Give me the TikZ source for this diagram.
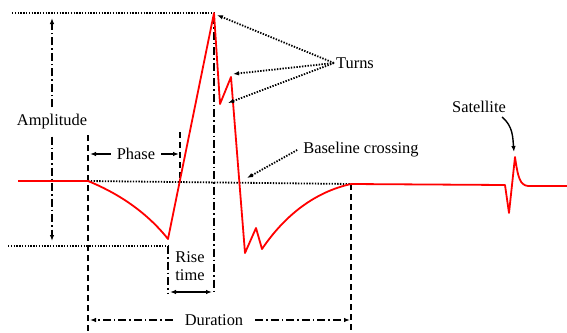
\documentclass[tikz,border=0pt]{standalone}
\usepackage{fontspec}
\setmainfont{Liberation Serif}
\usetikzlibrary{arrows.meta}
\begin{document}
\begin{tikzpicture}[x=1pt,y=-1pt,
  wave/.style={red, line width=1.8pt, line join=round},
  dotl/.style={line width=1.8pt, dash pattern=on 1.4pt off 1.4pt},
  dashl/.style={line width=1.9pt, dash pattern=on 6pt off 4pt},
  dashdot/.style={line width=1.7pt, dash pattern=on 8pt off 3pt on 1.5pt off 3pt},
  tip/.style={-{Latex[length=6pt,width=4.5pt]}},
  dtip/.style={{Latex[length=6pt,width=4.5pt]}-{Latex[length=6pt,width=4.5pt]}},
  lbl/.style={font=\fontsize{16.4}{18}\selectfont, inner sep=0pt, align=center}
]
\useasboundingbox (0,0) rectangle (567,332);
% waveform points
\coordinate (b0) at (18,181);
\coordinate (onset) at (88,181);
\coordinate (trough) at (168,239);
\coordinate (peak) at (214,13);
\coordinate (t1) at (220,104);
\coordinate (t2) at (231,77);
\coordinate (neg) at (245,253);
\coordinate (t3) at (256,228);
\coordinate (t4) at (262,249);
\coordinate (ret) at (351,184);
\coordinate (s0) at (505,185);
\coordinate (sdip) at (509,213);
\coordinate (stop) at (515,157);
\coordinate (s1) at (528,186);
\coordinate (b1) at (567,186);
% guide points
\coordinate (topL) at (12,13);
\coordinate (botL) at (8,246);
\coordinate (botR) at (168,246);
\coordinate (riseB) at (168,294);
\coordinate (onT) at (88,135);
\coordinate (onB) at (88,332);
\coordinate (phT) at (180,132);
\coordinate (phB) at (180,182);
\coordinate (pkT) at (214,16);
\coordinate (pkB) at (214,294);
\coordinate (rtT) at (351,184);
\coordinate (rtB) at (351,332);
\coordinate (ampT) at (52,18);
\coordinate (ampB) at (52,241);
\coordinate (phL) at (90,154);
\coordinate (phR) at (179,154);
\coordinate (rsL) at (170,292);
\coordinate (rsR) at (212,292);
\coordinate (duL) at (90,320);
\coordinate (duR) at (350,320);
\coordinate (tu1) at (217,15);
\coordinate (tu2) at (233,74);
\coordinate (tu3) at (228,103);
\coordinate (bcT) at (247,178);
\coordinate (satT) at (514,152);

% guides
\draw[dotl] (topL) -- (peak);
\draw[dotl] (onset) -- (ret);
\draw[dotl] (botL) -- (botR);
\draw[dashdot] (botR) -- (riseB);
\draw[dashl] (onT) -- (onB);
\draw[dashl] (phT) -- (phB);
\draw[dashdot] (pkT) -- (pkB);
\draw[dashl] (rtT) -- (rtB);

% waveform
\draw[wave] (b0) -- (onset) .. controls (115,192) and (145,210) .. (trough) -- (peak) -- (t1) -- (t2) -- (neg) -- (t3) -- (t4) .. controls (285,215) and (315,192) .. (ret) -- (s0) -- (sdip) -- (stop) .. controls (518,178) and (520,185) .. (s1) -- (b1);

% labels
\node[lbl, inner ysep=7pt] (amp) at (52,122) {Amplitude};
\node[lbl, inner xsep=6pt] (phase) at (136,154) {Phase};
\node[lbl] (rise) at (190,266) {Rise\\time};
\node[lbl, inner xsep=12pt] (dur) at (214,320) {Duration};
\node[lbl] (turns) at (355,63) {Turns};
\node[lbl] (bc) at (361,150) {Baseline crossing};
\node[lbl] (sat) at (479,107) {Satellite};

% connectors
\draw[dashdot,tip] (amp.north) -- (ampT);
\draw[dashdot,tip] (amp.south) -- (ampB);
\draw[line width=1.4pt,tip] (phase.west) -- (phL);
\draw[line width=1.4pt,tip] (phase.east) -- (phR);
\draw[line width=1.4pt,dtip] (rsL) -- (rsR);
\draw[dashdot,tip] (dur.west) -- (duL);
\draw[dashdot,tip] (dur.east) -- (duR);
\draw[dotl,tip] ([xshift=-2pt]turns.west) -- (tu1);
\draw[dotl,tip] ([xshift=-2pt]turns.west) -- (tu2);
\draw[dotl,tip] ([xshift=-2pt]turns.west) -- (tu3);
\draw[dotl,tip] ([xshift=-6pt]bc.west) -- (bcT);
\draw[line width=1.4pt,tip] ([xshift=-4pt,yshift=-4pt]sat.south east) to[out=-40,in=95] (satT);
\end{tikzpicture}
\end{document}
